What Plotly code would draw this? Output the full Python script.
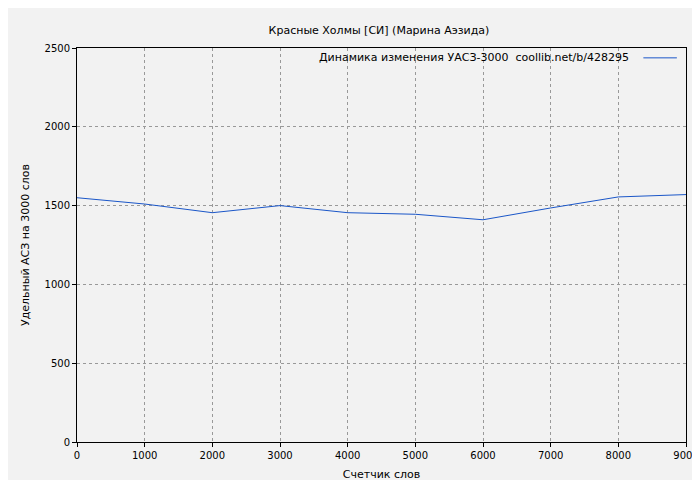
import plotly.graph_objects as go

x_words = [0, 1000, 2000, 3000, 4000, 5000, 6000, 7000, 8000, 9000]
y_vals = [1550, 1510, 1455, 1500, 1455, 1445, 1410, 1485, 1555, 1570]
x_ticks = [0, 1000, 2000, 3000, 4000, 5000, 6000, 7000, 8000, 9000]
y_ticks = [0, 500, 1000, 1500, 2000, 2500]
legend_text = "Динамика изменения УАСЗ-3000  coollib.net/b/428295"
line_color = "#1a56c8"

fig = go.Figure()
fig.add_trace(go.Scatter(x=x_words, y=y_vals, mode="lines",
                         line=dict(color=line_color, width=1), name=legend_text, showlegend=False))
ax = dict(showline=True, linecolor="black", linewidth=1, mirror=True,
          showgrid=True, gridcolor="#999999", griddash="dot", gridwidth=1,
          ticks="outside", ticklen=4, tickcolor="black", zeroline=False, automargin=False,
          tickfont=dict(size=10, color="black"))
fig.update_xaxes(range=[0, 9000], tickvals=x_ticks, title=dict(text="Счетчик слов", font=dict(size=11), standoff=10), **ax)
fig.update_yaxes(range=[0, 2500], tickvals=y_ticks, title=dict(text="Удельный АСЗ на 3000 слов", font=dict(size=11), standoff=12), **ax)
fig.add_annotation(text=legend_text, xref="paper", yref="paper", x=0.91, y=0.975,
                   xanchor="right", yanchor="middle", showarrow=False, font=dict(size=11))
fig.add_shape(type="line", xref="paper", yref="paper", x0=0.93, x1=0.985, y0=0.975, y1=0.975,
              line=dict(color=line_color, width=1))
fig.update_layout(
    width=700, height=480,
    margin=dict(l=69, r=22, t=40, b=46),
    paper_bgcolor="#f2f2f2", plot_bgcolor="#f2f2f2",
    font=dict(family="DejaVu Sans", size=11, color="black"),
    title=dict(text="Красные Холмы [СИ] (Марина Аэзида)", x=0.53, xanchor="center", y=0.962, font=dict(size=11)),
    showlegend=False,
)
fig.write_html("out.html")
